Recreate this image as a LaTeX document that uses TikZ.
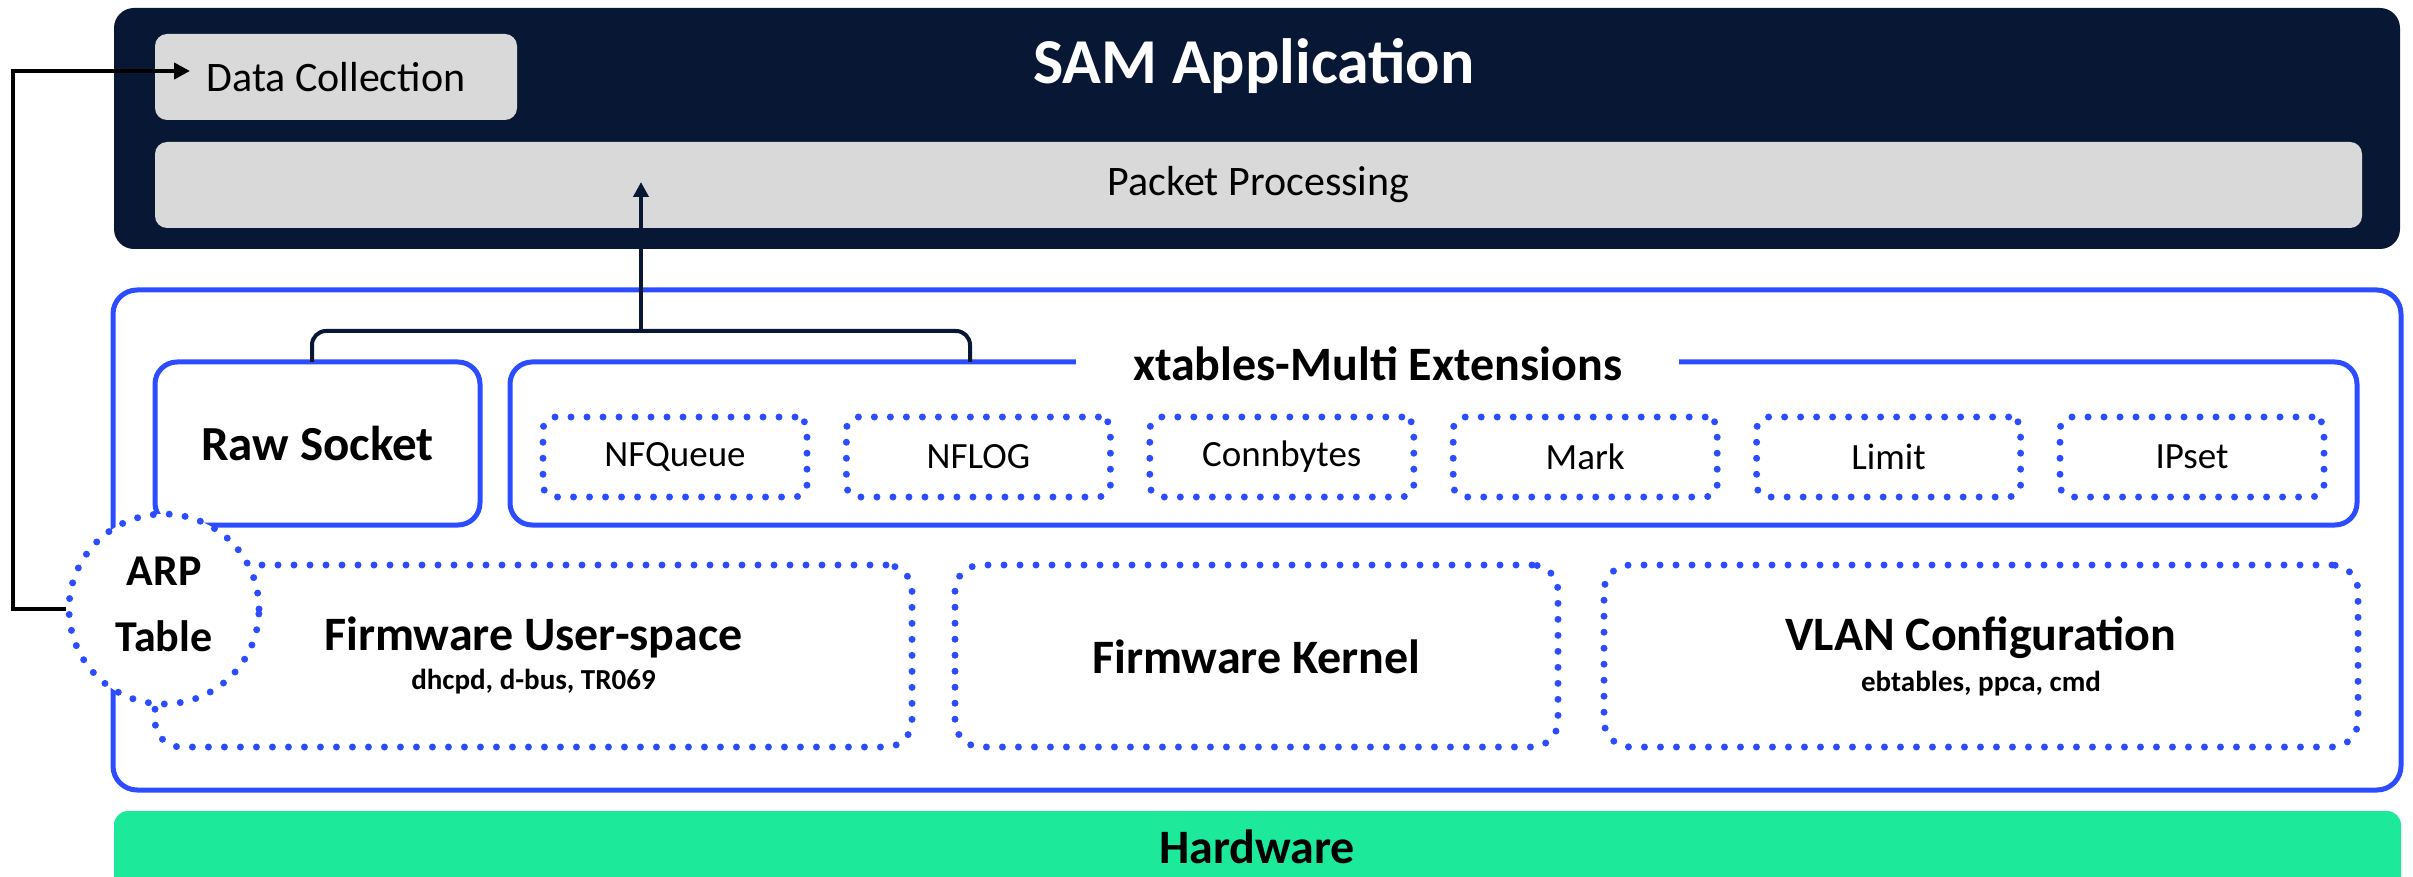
\documentclass[tikz,border=0pt]{standalone}
\usepackage{fontspec}
\setmainfont{Carlito}
\usetikzlibrary{arrows.meta}
\definecolor{navy}{RGB}{8,24,52}
\definecolor{lgray}{RGB}{217,217,217}
\definecolor{sblue}{RGB}{43,77,255}
\definecolor{hwgreen}{RGB}{29,233,155}
\newcommand{\fsz}[1]{\fontsize{#1}{#1}\selectfont}
\tikzset{
  darkbox/.style={fill=navy, rounded corners=20pt, inner sep=0pt},
  graybox/.style={fill=lgray, rounded corners=12pt, inner sep=0pt, font=\fsz{42}, text=black},
  solidblue/.style={draw=sblue, line width=5pt, rounded corners=24pt, inner sep=0pt},
  dotbox/.style={draw=sblue, line width=7pt, line cap=round, dash pattern=on 0pt off 16pt, rounded corners=16pt, inner sep=0pt},
  smallbox/.style={dotbox, rounded corners=12pt, minimum width=264pt, minimum height=80pt, font=\fsz{37}},
  bigbox/.style={dotbox, rounded corners=26pt, minimum height=182pt},
  headtxt/.style={font=\bfseries\fsz{48}, inner sep=0pt},
  subtxt/.style={font=\bfseries\fsz{29}, inner sep=0pt},
  treeline/.style={draw=navy, line width=4pt, rounded corners=14pt},
  blackarrow/.style={draw=black, line width=4.5pt, -{Triangle[length=16pt,width=16pt]}},
  navyarrow/.style={draw=navy, line width=4pt, -{Triangle[length=15pt,width=15pt]}}
}
\begin{document}
\begin{tikzpicture}[x=1pt,y=-1pt]
\clip (0,0) rectangle (2413,877);
\useasboundingbox (0,0) rectangle (2413,877);
% SAM application
\node[darkbox, minimum width=2286pt, minimum height=241pt] (sam) at (1257,128.5) {};
\node[font=\bfseries\fsz{64}, text=white, inner sep=0pt] (samt) at (1254,66) {SAM Application};
\node[graybox, minimum width=362pt, minimum height=86pt] (dc) at (336,77) {Data Collection};
\node[graybox, minimum width=2207pt, minimum height=86pt] (pp) at (1258.5,185) {Packet Processing};
% outer blue
\node[solidblue, minimum width=2288pt, minimum height=500pt] (outer) at (1257,540) {};
\node[solidblue, rounded corners=22pt, minimum width=325pt, minimum height=163pt, font=\bfseries\fsz{49}] (rs) at (317.5,443.5) {Raw Socket};
\node[solidblue, rounded corners=22pt, minimum width=1847pt, minimum height=163pt] (xt) at (1433.5,443.5) {};
\node[headtxt, fill=white, minimum width=603pt, minimum height=30pt] (xtt) at (1377.5,364) {xtables-Multi Extensions};
% small boxes
\node[smallbox] (nfq) at (675,457) {NFQueue};
\node[smallbox] (nfl) at (978.4,457) {NFLOG};
\node[smallbox] (cb) at (1281.8,457) {Connbytes};
\node[smallbox] (mk) at (1585.2,457) {Mark};
\node[smallbox] (lm) at (1888.6,457) {Limit};
\node[smallbox] (ips) at (2192,457) {IPset};
% big boxes
\node[bigbox, minimum width=757pt] (fu) at (533.5,656) {};
\node[headtxt] (fut) at (533.5,637) {Firmware User-space};
\node[subtxt] (fus) at (533.5,682) {dhcpd, d-bus, TR069};
\node[bigbox, minimum width=603pt] (fk) at (1256.5,656) {};
\node[headtxt] (fkt) at (1256.5,657) {Firmware Kernel};
\node[bigbox, minimum width=754pt] (vl) at (1981,656) {};
\node[headtxt] (vlt) at (1981,638) {VLAN Configuration};
\node[subtxt] (vls) at (1981,684) {ebtables, ppca, cmd};
% ARP circle
\node[circle, draw=sblue, line width=7pt, line cap=round, dash pattern=on 0pt off 16pt, fill=white, minimum size=190pt, inner sep=0pt] (arp) at (164,609) {};
\node[font=\bfseries\fsz{44}, inner sep=0pt] (arp1) at (164,571) {ARP};
\node[font=\bfseries\fsz{44}, inner sep=0pt] (arp2) at (164,636) {Table};
% hardware
\draw[fill=hwgreen, draw=none, rounded corners=14pt] (114,811) rectangle (2401,920);
\node[font=\bfseries\fsz{48}, inner sep=0pt] (hw) at (1257,847) {Hardware};
% tree connector
\coordinate (t1) at (312,362);
\coordinate (t2) at (312,331);
\coordinate (t3) at (970,331);
\coordinate (t4) at (970,362);
\coordinate (tm) at (641,331);
\coordinate (ppin) at (641,182);
\draw[treeline] (t1) -- (t2) -- (t3) -- (t4);
\draw[navyarrow] (tm) -- (ppin);
% ARP to data collection
\coordinate (b1) at (13,609);
\coordinate (b2) at (13,71);
\coordinate (dcin) at (190,71);
\draw[blackarrow] (arp.west) -- (b1) -- (b2) -- (dcin);
\end{tikzpicture}
\end{document}
